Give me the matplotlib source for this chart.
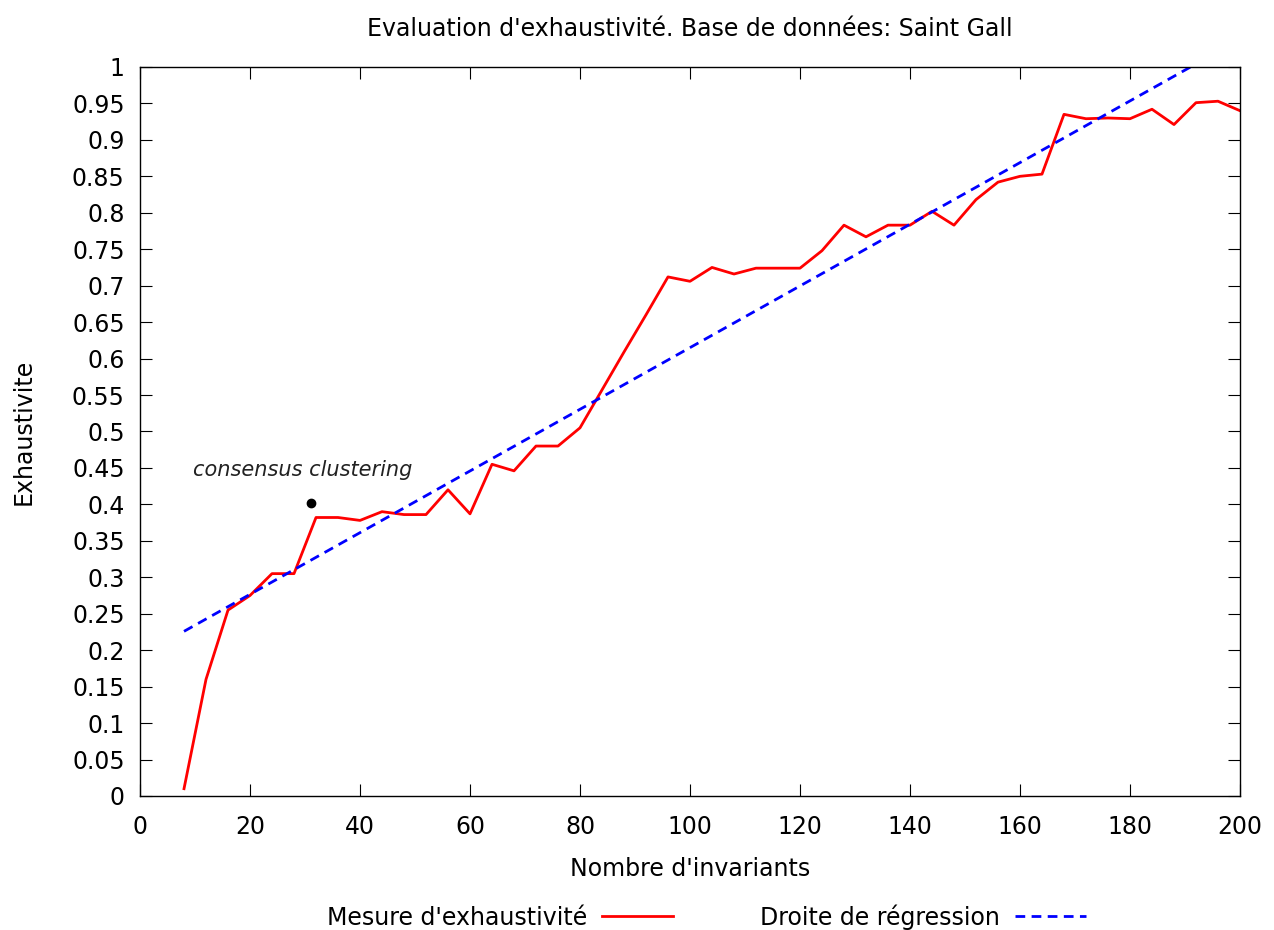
import numpy as np
import matplotlib.pyplot as plt

plt.rcParams['font.family'] = ['DejaVu Sans']

# Mesure d'exhaustivite (nombre d'invariants -> exhaustivite)
invariants = np.arange(8, 201, 4)
exhaustivite = [0.01, 0.16, 0.255, 0.275, 0.305, 0.305, 0.382, 0.382, 0.378, 0.39,
                0.386, 0.386, 0.42, 0.387, 0.455, 0.446, 0.48, 0.48, 0.505, 0.557,
                0.609, 0.66, 0.712, 0.706, 0.725, 0.716, 0.724, 0.724, 0.724, 0.748,
                0.783, 0.767, 0.783, 0.783, 0.802, 0.783, 0.818, 0.842, 0.85, 0.853,
                0.935, 0.929, 0.930, 0.929, 0.942, 0.921, 0.951, 0.953, 0.94]

# droite de regression
pente = 0.00423
origine = 0.192
reg_x = [8, 200]

# point consensus clustering
cc_x = 31
cc_y = 0.402

fs = 17

fig = plt.figure(figsize=(12.74, 9.30), dpi=100)
ax = fig.add_axes([0.1099, 0.1441, 0.8634, 0.7839])

ax.plot(invariants, exhaustivite, color='#ff0000', lw=2, label="Mesure d'exhaustivité")
reg_y = [origine + pente * x for x in reg_x]
ax.plot(reg_x, reg_y, color='#0000ff', lw=2, ls=(0, (3.5, 2.3)), label='Droite de régression')
ax.plot([cc_x], [cc_y], 'o', color='black', ms=6)
ax.text(9.6, 0.447, 'consensus clustering', style='italic', fontsize=15, va='center', color='#222222')

ax.set_xlim(0, 200)
ax.set_ylim(0, 1)
ax.set_xticks(np.arange(0, 201, 20))
ax.set_yticks(np.arange(0, 1.001, 0.05))
ax.set_yticklabels(['0'] + ['%g' % v for v in np.arange(0.05, 1.001, 0.05)])
ax.tick_params(direction='in', top=True, right=True, length=8.5, labelsize=fs)
ax.tick_params(axis='x', pad=14)
ax.tick_params(axis='y', pad=11)
for s in ax.spines.values():
    s.set_linewidth(1.0)

ax.set_xlabel("Nombre d'invariants", fontsize=fs, labelpad=13)
ax.set_ylabel('Exhaustivite', fontsize=fs, labelpad=26)
ax.set_title("Evaluation d'exhaustivité. Base de données: Saint Gall", fontsize=fs, pad=22)

fig.legend(loc='center', bbox_to_anchor=(0.5546, 0.014), ncol=2, frameon=False,
           markerfirst=False, fontsize=fs, handlelength=3.0, handletextpad=0.64,
           columnspacing=3.7)

fig.savefig('out.png', dpi=100)
